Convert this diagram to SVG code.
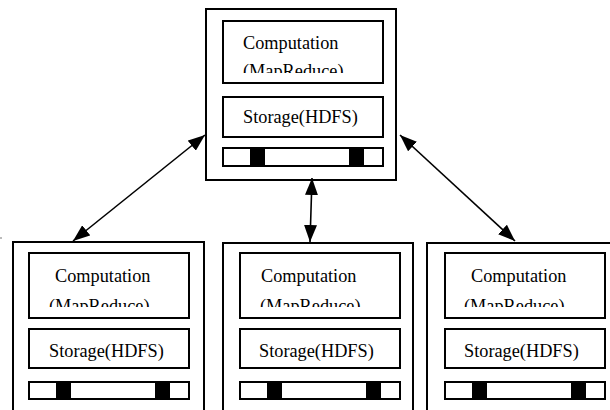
<svg xmlns="http://www.w3.org/2000/svg" width="610" height="410" viewBox="0 0 610 410">
  <style>
    .frame { fill: #fff; stroke: #000; stroke-width: 2; }
    .cell { fill: #fff; stroke: #000; stroke-width: 2; }
    .blk { fill: #000; }
    text { font-family: 'Liberation Serif', 'DejaVu Serif', serif; font-size: 18.3px; fill: #000; }
    .link { stroke: #000; stroke-width: 1.6; fill: none; marker-start: url(#head); marker-end: url(#head); }
  </style>
  <defs>
    <marker id="head" viewBox="0 0 17 13" refX="17" refY="6.5" markerWidth="17" markerHeight="13" markerUnits="userSpaceOnUse" orient="auto-start-reverse">
      <path d="M0,0 L17,6.5 L0,13 z" fill="#000"/>
    </marker>
    <!-- second label lines are cut off at the bottom by their text frame -->
    <clipPath id="clipTop"><rect x="223" y="21" width="160" height="52"/></clipPath>
    <clipPath id="clipA"><rect x="29" y="253" width="160" height="54"/></clipPath>
    <clipPath id="clipB"><rect x="240" y="253" width="160" height="54"/></clipPath>
    <clipPath id="clipC"><rect x="445" y="253" width="160" height="54"/></clipPath>
  </defs>

  <rect x="0" y="237" width="2" height="2" fill="#bbb"/>

  <g id="master">
    <rect class="frame" x="206" y="9" width="190" height="171"/>
    <rect class="cell" x="223" y="21" width="160" height="62"/>
    <text x="243" y="49" font-family="Liberation Serif, serif">Computation</text>
    <text x="243" y="77" font-family="Liberation Serif, serif" clip-path="url(#clipTop)">(MapReduce)</text>
    <rect class="cell" x="223" y="97" width="160" height="40"/>
    <text x="243" y="123" font-family="Liberation Serif, serif">Storage(HDFS)</text>
    <rect class="cell" x="223" y="148" width="160" height="18"/>
    <rect class="blk" x="250" y="148" width="15" height="18"/>
    <rect class="blk" x="349" y="148" width="15" height="18"/>
  </g>

  <g id="worker-left">
    <rect class="frame" x="13" y="242" width="191" height="200"/>
    <rect class="cell" x="29" y="253" width="160" height="65"/>
    <text x="55" y="282">Computation</text>
    <text x="49" y="312" clip-path="url(#clipA)">(MapReduce)</text>
    <rect class="cell" x="29" y="329" width="160" height="39"/>
    <text x="49" y="357">Storage(HDFS)</text>
    <rect class="cell" x="29" y="382" width="160" height="17"/>
    <rect class="blk" x="56" y="382" width="15" height="17"/>
    <rect class="blk" x="155" y="382" width="15" height="17"/>
  </g>

  <g id="worker-middle">
    <rect class="frame" x="223" y="243" width="190" height="200"/>
    <rect class="cell" x="240" y="253" width="160" height="65"/>
    <text x="261" y="282">Computation</text>
    <text x="260" y="312" clip-path="url(#clipB)">(MapReduce)</text>
    <rect class="cell" x="240" y="329" width="160" height="39"/>
    <text x="259" y="357">Storage(HDFS)</text>
    <rect class="cell" x="240" y="382" width="160" height="17"/>
    <rect class="blk" x="267" y="382" width="15" height="17"/>
    <rect class="blk" x="366" y="382" width="15" height="17"/>
  </g>

  <g id="worker-right">
    <rect class="frame" x="427" y="243" width="200" height="200"/>
    <rect class="cell" x="445" y="253" width="160" height="65"/>
    <text x="471" y="282">Computation</text>
    <text x="464" y="312" clip-path="url(#clipC)">(MapReduce)</text>
    <rect class="cell" x="445" y="329" width="160" height="39"/>
    <text x="464" y="357">Storage(HDFS)</text>
    <rect class="cell" x="445" y="382" width="160" height="17"/>
    <rect class="blk" x="472" y="382" width="15" height="17"/>
    <rect class="blk" x="571" y="382" width="15" height="17"/>
  </g>

  <g id="links">
    <line class="link" x1="205" y1="135" x2="73" y2="241"/>
    <line class="link" x1="312" y1="178" x2="310" y2="242"/>
    <line class="link" x1="400" y1="135" x2="515" y2="241"/>
  </g>
</svg>
